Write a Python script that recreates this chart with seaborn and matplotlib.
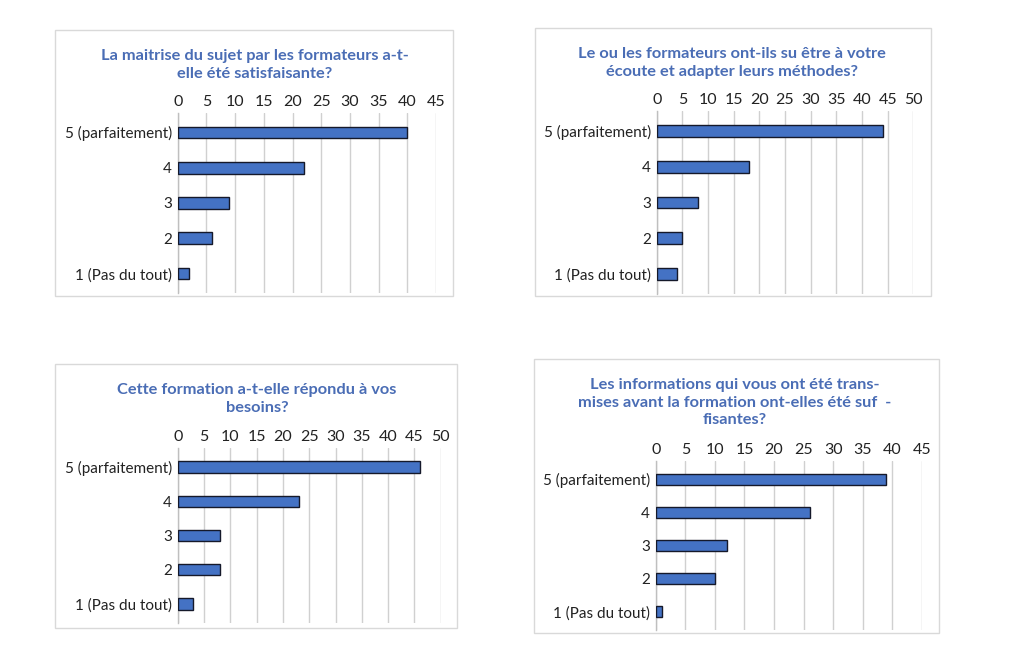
import matplotlib
matplotlib.use("Agg")
import matplotlib.pyplot as plt
import seaborn as sns
import pandas as pd
from matplotlib.patches import Rectangle

categories = ["5 (parfaitement)", "4", "3", "2", "1 (Pas du tout)"]

values_q1 = [40, 22, 9, 6, 2]
values_q2 = [44, 18, 8, 5, 4]
values_q3 = [46, 23, 8, 8, 3]
values_q4 = [39, 26, 12, 10, 1]

titles = [
    ["La maitrise du sujet par les formateurs a-t-", "elle été satisfaisante?"],
    ["Le ou les formateurs ont-ils su être à votre", "écoute et adapter leurs méthodes?"],
    ["Cette formation a-t-elle répondu à vos", "besoins?"],
    ["Les informations qui vous ont été trans-", "mises avant la formation ont-elles été suf  -", "fisantes?"],
]
xmax = [45, 50, 50, 45]

sns.set_theme(style="white")
plt.rcParams['font.family'] = ['Lato', 'DejaVu Sans']

W, H = 1024, 652
fig = plt.figure(figsize=(W / 100, H / 100), dpi=100)
fig.patch.set_facecolor("white")

BLUE = "#4472C4"
TITLE_BLUE = "#4a6db5"
GRID = "#d0d0d0"

# layout in pixels: (box x0, y0, x1, y1), (axes x0, y0, x1, y1), title center x, title first line y
layouts = [
    ((55, 30, 453, 296), (177.7, 113, 436, 293), 255, 56),
    ((535, 28, 931, 296), (656.7, 111, 913.3, 294), 732, 54),
    ((55, 364, 457, 628), (177.7, 448, 440.7, 623), 257, 390),
    ((534, 359, 939, 633), (655.7, 461, 922, 630), 735, 385),
]

all_values = [values_q1, values_q2, values_q3, values_q4]

for i, (vals, (box, axb, tcx, ty)) in enumerate(zip(all_values, layouts)):
    bx0, by0, bx1, by1 = box
    fig.patches.append(Rectangle((bx0 / W, 1 - by1 / H), (bx1 - bx0) / W, (by1 - by0) / H,
                                 transform=fig.transFigure, fill=False,
                                 edgecolor="#d9d9d9", linewidth=1.0))
    ax0, ay0, ax1, ay1 = axb
    ax = fig.add_axes([ax0 / W, 1 - ay1 / H, (ax1 - ax0) / W, (ay1 - ay0) / H])
    df = pd.DataFrame({"cat": categories, "val": vals})
    sns.barplot(data=df, x="val", y="cat", orient="h", color=BLUE, width=0.33,
                edgecolor="#15192a", linewidth=1.0, saturation=1, ax=ax, zorder=3)
    ax.set_xlim(0, xmax[i])
    ax.set_ylim(4.55, -0.55)
    ax.set_xticks(range(0, xmax[i] + 1, 5))
    ax.xaxis.tick_top()
    ax.tick_params(axis="x", length=0, pad=3, labelsize=11.5, colors="#222222")
    ax.tick_params(axis="y", length=0, pad=4, labelsize=11, colors="#222222")
    ax.set_xlabel("")
    ax.set_ylabel("")
    ax.grid(axis="x", color=GRID, linewidth=1.0, zorder=0)
    ax.set_axisbelow(True)
    for s in ["top", "right", "bottom"]:
        ax.spines[s].set_visible(False)
    ax.spines["left"].set_color("#bfbfbf")
    ax.spines["left"].set_linewidth(1.0)
    ax.set_facecolor("none")
    for j, line in enumerate(titles[i]):
        fig.text(tcx / W, 1 - (ty + j * 17.6) / H, line, ha="center", va="center",
                 fontsize=11.8, fontweight="bold", color=TITLE_BLUE)

fig.savefig("out.png", dpi=100, facecolor="white")
